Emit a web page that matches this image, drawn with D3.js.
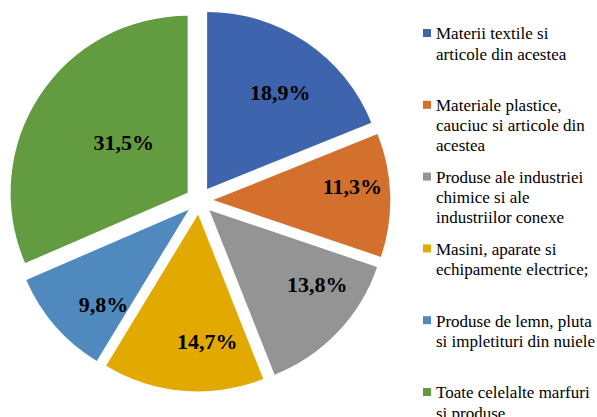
<!DOCTYPE html>
<html>
<head>
<meta charset="utf-8">
<script src="https://cdn.jsdelivr.net/npm/d3@7"></script>
<style>
  body { margin: 0; background: #fff; }
  svg { display: block; }
</style>
</head>
<body>
<script>
// date din grafic
const categories = [
  "Materii textile si articole din acestea",
  "Materiale plastice, cauciuc si articole din acestea",
  "Produse ale industriei chimice si ale industriilor conexe",
  "Masini, aparate si echipamente electrice;",
  "Produse de lemn, pluta si impletituri din nuiele",
  "Toate celelalte marfuri si produse"
];
const legendLines = [
  ["Materii textile si", "articole din acestea"],
  ["Materiale plastice,", "cauciuc si articole din", "acestea"],
  ["Produse ale industriei", "chimice si ale", "industriilor conexe"],
  ["Masini, aparate si", "echipamente electrice;"],
  ["Produse de lemn, pluta", "si impletituri din nuiele"],
  ["Toate celelalte marfuri", "si produse"]
];
const values = [18.9, 11.3, 13.8, 14.7, 9.8, 31.5];
const colors = ["#3E64AD", "#D4702D", "#949494", "#E2AA00", "#4F89BE", "#639B40"];

const width = 597, height = 417;
const cx = 199.3, cy = 200.5, r = 177, explode = 14;
const font = "'Liberation Serif'";

// pozitia etichetelor (best fit ca in Excel)
const labelK = [0.685, 0.79, 0.74, 0.72, 0.72, 0.46];
const labelRot = [3, -4, -9, -9, -7, 5];

const svg = d3.select("body").append("svg")
  .attr("width", width)
  .attr("height", height);

const pie = d3.pie().sort(null).value(function (d) { return d; });
const arcs = pie(values);
const arc = d3.arc().innerRadius(0).outerRadius(r);

const g = svg.append("g").attr("transform", "translate(" + cx + "," + cy + ")");

const slices = g.selectAll("g.slice").data(arcs).enter().append("g")
  .attr("class", "slice")
  .attr("transform", function (d) {
    const a = (d.startAngle + d.endAngle) / 2;
    return "translate(" + (Math.sin(a) * explode) + "," + (-Math.cos(a) * explode) + ")";
  });

slices.append("path")
  .attr("d", arc)
  .attr("fill", function (d, i) { return colors[i]; });

function labelAngle(d, i) {
  return (d.startAngle + d.endAngle) / 2 + labelRot[i] * Math.PI / 180;
}

slices.append("text")
  .text(function (d) { return d3.format(".1f")(d.data).replace(".", ",") + "%"; })
  .attr("x", function (d, i) { return Math.sin(labelAngle(d, i)) * r * labelK[i]; })
  .attr("y", function (d, i) { return -Math.cos(labelAngle(d, i)) * r * labelK[i] + 7.5; })
  .attr("text-anchor", "middle")
  .style("font-family", font)
  .style("font-weight", "bold")
  .attr("font-size", 22)
  .attr("fill", "#000");

// legenda
const legend = svg.append("g");
const items = legend.selectAll("g").data(legendLines).enter().append("g")
  .attr("transform", function (d, i) { return "translate(423," + (33 + i * 71.8) + ")"; });

items.append("rect")
  .attr("x", 0).attr("y", -4)
  .attr("width", 8).attr("height", 8)
  .attr("fill", function (d, i) { return colors[i]; });

items.each(function (lines) {
  d3.select(this).selectAll("text").data(lines).enter().append("text")
    .attr("x", 13)
    .attr("y", function (d, j) { return j * 20.2 + 6.3; })
    .style("font-family", font)
    .attr("font-size", 17)
    .attr("fill", "#000")
    .text(function (d) { return d; });
});
</script>
</body>
</html>
